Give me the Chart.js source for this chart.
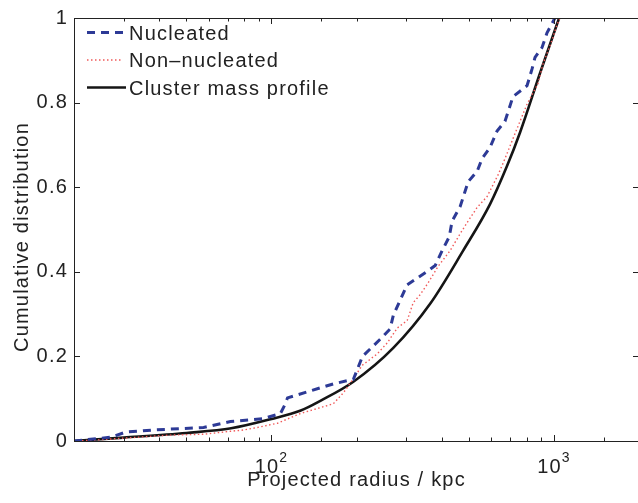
<!DOCTYPE html>
<html>
<head>
<meta charset="utf-8">
<script src="https://cdn.jsdelivr.net/npm/chart.js@4.4.1/dist/chart.umd.min.js"></script>
<style>
  html, body { margin: 0; padding: 0; background: #fff; overflow: hidden; }
  #wrap { width: 638px; height: 503px; overflow: hidden; }
  canvas { display: block; }
</style>
</head>
<body>
<div id="wrap"><canvas id="cdf" width="642" height="503"></canvas></div>
<script>
// projected radius (kpc) and cumulative fraction
const nucleatedRadius = [20, 27, 30.5, 38, 57.5, 71.6, 93.7, 107.6, 112, 114, 165.6, 195, 210, 243, 263, 270, 286, 302, 356, 380, 402, 426, 436, 466, 497, 535, 557, 594, 629, 671, 716, 803, 836, 857, 907, 945, 1008];
const nucleatedFrac = [0, 0.009, 0.021, 0.026, 0.032, 0.046, 0.053, 0.065, 0.088, 0.102, 0.135, 0.146, 0.2, 0.241, 0.265, 0.297, 0.334, 0.369, 0.401, 0.415, 0.45, 0.483, 0.52, 0.555, 0.613, 0.638, 0.668, 0.694, 0.733, 0.756, 0.814, 0.84, 0.879, 0.907, 0.93, 0.965, 1.0];

const nonNucRadius = [20, 23.5, 33.6, 44, 57.5, 71.6, 79.6, 89.2, 105, 126.6, 165.6, 179.7, 190.2, 209.7, 236.9, 257, 278.8, 302.4, 317.5, 336.1, 358.7, 389.2, 429, 465.5, 496.8, 534.5, 579.9, 634, 671.3, 716.3, 758.5, 802.9, 878.2, 914.5, 984, 1025, 1050];
const nonNucFrac = [0, 0.002, 0.009, 0.014, 0.016, 0.023, 0.026, 0.032, 0.042, 0.065, 0.088, 0.114, 0.137, 0.179, 0.206, 0.232, 0.267, 0.285, 0.327, 0.346, 0.374, 0.413, 0.45, 0.49, 0.52, 0.552, 0.578, 0.629, 0.668, 0.715, 0.756, 0.796, 0.845, 0.891, 0.947, 0.984, 1.0];

const profileRadius = [20, 30, 50, 72, 100, 127, 149, 195, 270, 365, 477, 594, 682, 759, 893, 1043];
const profileFrac = [0, 0.008, 0.019, 0.03, 0.052, 0.072, 0.095, 0.14, 0.22, 0.325, 0.45, 0.56, 0.65, 0.73, 0.87, 1.0];

const yTicks = [0, 0.2, 0.4, 0.6, 0.8, 1];
const xDecades = [100, 1000];
const legendNames = ['Nucleated', 'Non\u2013nucleated', 'Cluster mass profile'];

const FONT = '"Liberation Sans", Arial, Helvetica, sans-serif';
const SPACING = '1.2px';

const toPoints = (xs, ys) => xs.map((x, i) => ({ x: x, y: ys[i] }));

const styles = [
  { color: '#2d3a96', width: 3, dash: [8, 6] },
  { color: '#f05a5a', width: 1.4, dash: [1.5, 2.5] },
  { color: '#151515', width: 2.6, dash: [] },
];

// MATLAB style box, inward ticks, decade labels, axis titles and legend
const frame = {
  id: 'frame',
  beforeDraw(chart) {
    chart.ctx.letterSpacing = SPACING;
  },
  afterDraw(chart) {
    const { ctx, chartArea: a, scales } = chart;
    ctx.save();
    ctx.letterSpacing = SPACING;
    ctx.strokeStyle = '#222';
    ctx.lineWidth = 1;
    ctx.setLineDash([]);
    ctx.strokeRect(a.left + 0.5, a.top + 0.5, a.right - a.left, a.bottom - a.top);

    ctx.beginPath();
    scales.x.ticks.forEach(t => {
      const px = Math.round(scales.x.getPixelForValue(t.value)) + 0.5;
      const len = xDecades.includes(t.value) ? 6 : 3.5;
      ctx.moveTo(px, a.bottom); ctx.lineTo(px, a.bottom - len);
      ctx.moveTo(px, a.top); ctx.lineTo(px, a.top + len);
    });
    yTicks.forEach(v => {
      const py = Math.round(scales.y.getPixelForValue(v)) + 0.5;
      ctx.moveTo(a.left, py); ctx.lineTo(a.left + 6, py);
      ctx.moveTo(a.right, py); ctx.lineTo(a.right - 6, py);
    });
    ctx.stroke();

    // decade labels 10^n
    ctx.fillStyle = '#222';
    ctx.textBaseline = 'alphabetic';
    ctx.textAlign = 'left';
    xDecades.forEach(v => {
      const px = scales.x.getPixelForValue(v);
      const exp = String(Math.round(Math.log10(v)));
      ctx.font = '20px ' + FONT;
      const w1 = ctx.measureText('10').width;
      ctx.font = '14px ' + FONT;
      const w2 = ctx.measureText(exp).width;
      const x0 = px - (w1 + w2) / 2;
      ctx.font = '20px ' + FONT;
      ctx.fillText('10', x0, 473);
      ctx.font = '14px ' + FONT;
      ctx.fillText(exp, x0 + w1, 462);
    });

    // axis titles
    ctx.font = '20px ' + FONT;
    ctx.textAlign = 'center';
    ctx.fillText('Projected radius / kpc', (a.left + a.right) / 2, 486);
    ctx.save();
    ctx.translate(28, 237);
    ctx.rotate(-Math.PI / 2);
    ctx.fillText('Cumulative distribution', 0, 0);
    ctx.restore();

    // legend
    const rows = [32.5, 60, 87.5];
    ctx.textAlign = 'left';
    legendNames.forEach((name, i) => {
      const s = styles[i];
      ctx.save();
      ctx.strokeStyle = s.color;
      ctx.lineWidth = s.width;
      ctx.setLineDash(s.dash);
      ctx.beginPath();
      ctx.moveTo(87, rows[i]);
      ctx.lineTo(i === 1 ? 123 : 126, rows[i]);
      ctx.stroke();
      ctx.restore();
      ctx.fillStyle = '#222';
      ctx.fillText(name, 129, rows[i] + 7);
    });
    ctx.restore();
  }
};

const datasets = [
  toPoints(nucleatedRadius, nucleatedFrac),
  toPoints(nonNucRadius, nonNucFrac),
  toPoints(profileRadius, profileFrac),
].map((pts, i) => ({
  label: legendNames[i],
  data: pts,
  borderColor: styles[i].color,
  borderWidth: styles[i].width,
  borderDash: styles[i].dash,
  pointRadius: 0,
  fill: false,
  tension: 0,
  cubicInterpolationMode: i === 2 ? 'monotone' : 'default',
}));

new Chart(document.getElementById('cdf'), {
  type: 'line',
  data: { datasets: datasets },
  options: {
    responsive: false,
    animation: false,
    events: [],
    layout: { padding: { top: 10, right: 3, bottom: 0, left: 0 } },
    plugins: { legend: { display: false }, tooltip: { enabled: false } },
    scales: {
      x: {
        type: 'logarithmic',
        min: 20,
        max: 2000,
        grid: { display: false },
        border: { display: false },
        ticks: { display: false },
        afterFit: (s) => { s.height = 62; },
      },
      y: {
        min: 0,
        max: 1,
        grid: { display: false, drawTicks: false },
        border: { display: false },
        afterBuildTicks: (s) => { s.ticks = yTicks.map(v => ({ value: v })); },
        ticks: {
          padding: 6,
          color: '#222',
          font: { family: FONT, size: 20 },
          callback: (v) => String(v),
        },
        afterFit: (s) => { s.width = 74; },
      },
    },
  },
  plugins: [frame],
});
</script>
</body>
</html>
